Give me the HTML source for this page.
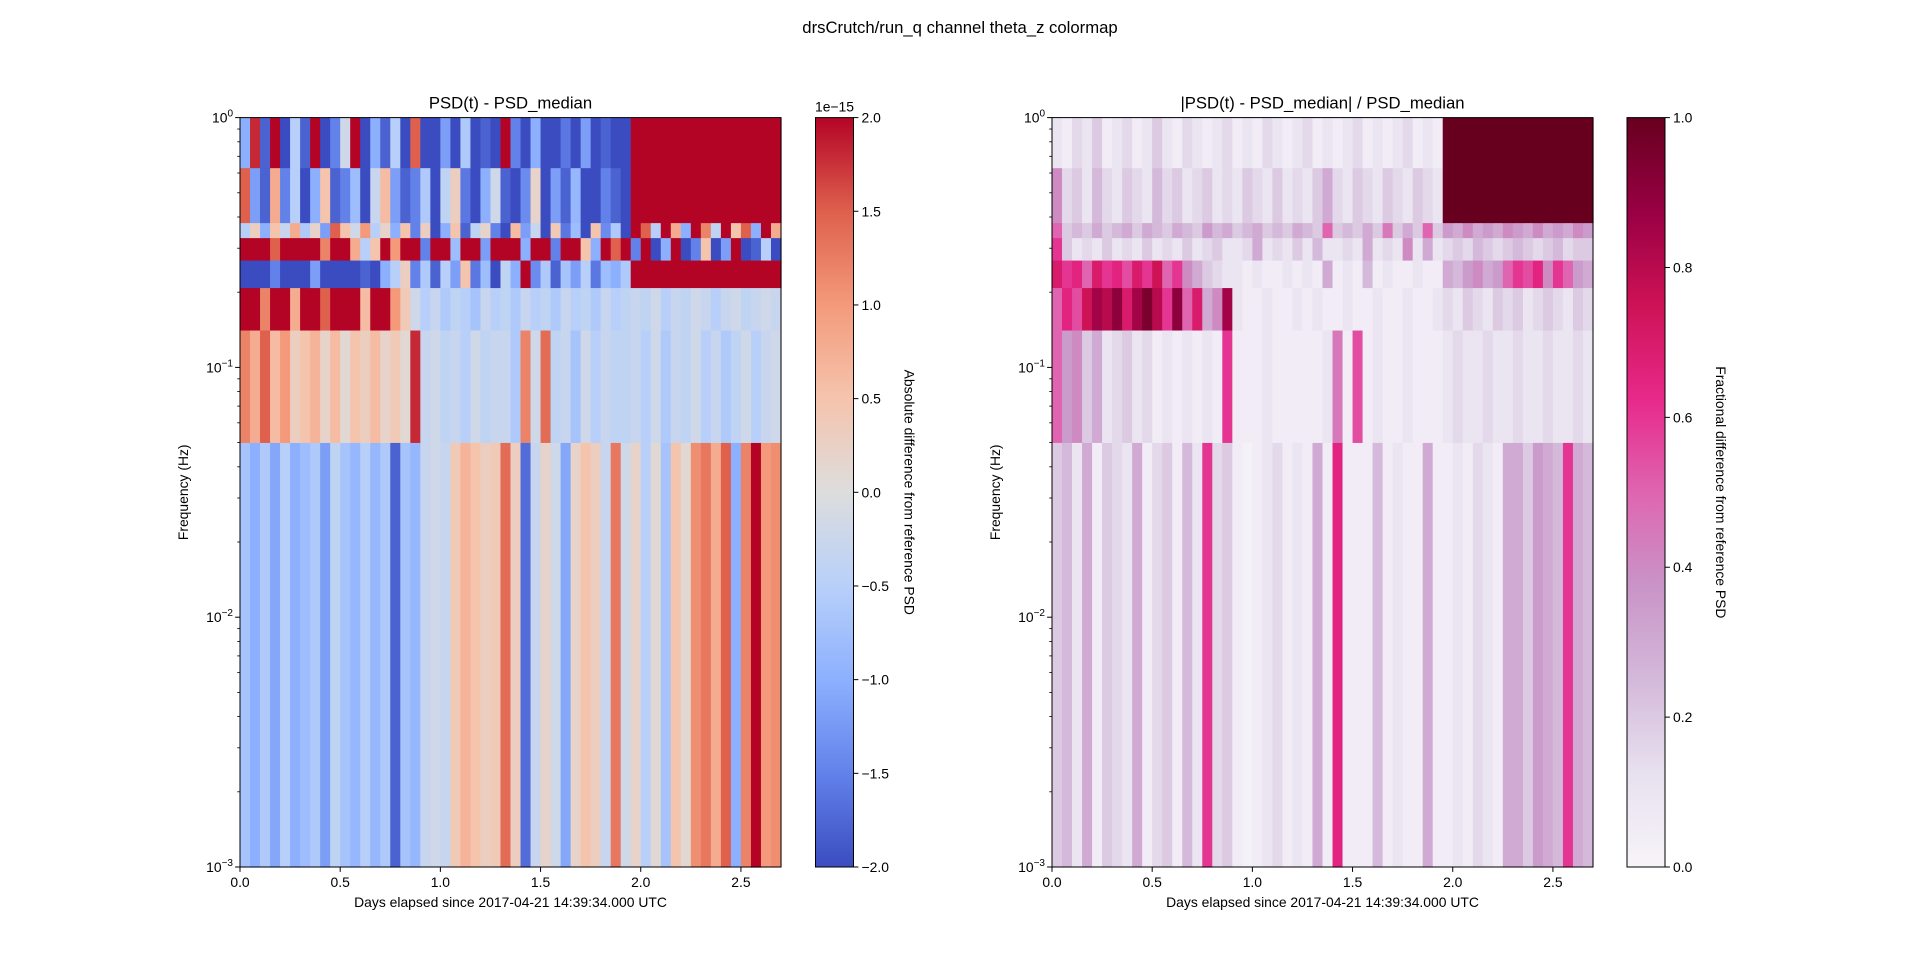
<!DOCTYPE html>
<html><head><meta charset="utf-8"><style>
body{margin:0;background:#fff}
svg text{font-family:"Liberation Sans","DejaVu Sans",sans-serif;fill:#000}
</style></head><body>
<svg id="fig" width="1920" height="974" xmlns="http://www.w3.org/2000/svg">
<defs>
<linearGradient id="gcw" x1="0" y1="1" x2="0" y2="0">
<stop offset="0" stop-color="rgb(59,76,192)"/><stop offset="0.125" stop-color="rgb(98,130,234)"/><stop offset="0.25" stop-color="rgb(141,176,254)"/><stop offset="0.375" stop-color="rgb(184,208,249)"/><stop offset="0.5" stop-color="rgb(221,221,221)"/><stop offset="0.625" stop-color="rgb(245,196,173)"/><stop offset="0.75" stop-color="rgb(244,154,123)"/><stop offset="0.875" stop-color="rgb(222,96,77)"/><stop offset="1" stop-color="rgb(180,4,38)"/>
</linearGradient>
<linearGradient id="gpr" x1="0" y1="1" x2="0" y2="0">
<stop offset="0" stop-color="rgb(247,244,249)"/><stop offset="0.125" stop-color="rgb(231,225,239)"/><stop offset="0.25" stop-color="rgb(212,185,218)"/><stop offset="0.375" stop-color="rgb(201,148,199)"/><stop offset="0.5" stop-color="rgb(223,101,176)"/><stop offset="0.625" stop-color="rgb(231,41,138)"/><stop offset="0.75" stop-color="rgb(206,18,86)"/><stop offset="0.875" stop-color="rgb(152,0,67)"/><stop offset="1" stop-color="rgb(103,0,31)"/>
</linearGradient>
</defs>
<text x="960" y="33" font-size="16.7" text-anchor="middle">drsCrutch/run_q channel theta_z colormap</text>
<g id="left"></g><g id="right"></g>
</svg>
<script>
const times=[0,0.05,0.1,0.15,0.2,0.25,0.3,0.35,0.4,0.45,0.5,0.55,0.6,0.65,0.7,0.75,0.8,0.85,0.9,0.95,1,1.05,1.1,1.15,1.2,1.25,1.3,1.35,1.4,1.45,1.5,1.55,1.6,1.65,1.7,1.75,1.8,1.85,1.9,1.95,2,2.05,2.1,2.15,2.2,2.25,2.3,2.35,2.4,2.45,2.5,2.55,2.6,2.65];
const bandEdges=[-3,-1.3,-0.85,-0.68,-0.57,-0.48,-0.42,-0.2,0];
const lowL=[-0.7,-1.0,-0.6,-1.1,-0.5,-1.0,-0.8,-0.6,-1.2,-0.4,-0.7,-0.9,-0.5,-0.9,-0.6,-1.8,-0.7,-0.9,-0.3,-0.2,-0.3,0.4,0.7,0.5,0.3,0.4,1.4,0.3,-1.7,-0.3,0.2,-0.2,-1.1,0.2,0.5,0.3,-0.3,1.3,-0.2,0.2,-0.5,0.1,-0.7,0.5,0.1,1.1,1.3,0.8,1.5,-1.0,1.2,2.0,1.0,1.1];
const midL=[1.2,0.8,1.5,0.6,1.0,0.3,0.5,0.7,0.2,0.6,0.1,0.5,0.3,0.6,0.2,0.4,0.1,1.8,-0.3,-0.2,-0.4,-0.3,-0.5,-0.2,-0.4,-0.3,-0.3,-0.6,1.2,-0.2,1.4,-0.4,-0.3,-0.7,-0.2,-0.5,-0.3,-0.4,-0.4,-0.3,-0.5,-0.2,-0.6,-0.3,-0.4,-0.2,-0.5,-0.3,-0.6,-0.4,-0.2,-0.5,-0.3,-0.2];
const b2L=[2,2,1.2,2,2,0.8,2,2,1.5,2,2,2,0.6,2,2,1.0,0.4,-0.2,-0.5,-0.3,-0.6,-0.4,-0.5,-0.7,-0.3,-0.5,-0.4,-0.6,-0.3,-0.5,-0.4,-0.6,-0.3,-0.5,-0.4,-0.6,-0.3,-0.5,-0.4,-0.3,-0.4,-0.2,-0.5,-0.3,-0.4,-0.2,-0.3,-0.5,-0.3,-0.2,-0.4,-0.3,-0.2,-0.3];
const b3L=[-2,-2,-2,-1.5,-2,-2,-2,-1.2,-2,-2,-2,-2,-1.8,-2,-1.0,-0.5,0.3,-1.5,-0.6,-1.8,-0.5,-1.2,0.5,-1.6,-0.8,-2,-0.4,-1.0,2,-1.4,-0.6,-1.8,-0.7,-1.2,-0.5,-1.6,-0.8,-1.0,-0.6,2,2,2,2,2,2,2,2,2,2,2,2,2,2,2];
const b4L=[2,2,2,1.5,2,2,2,2,1.2,2,2,0.8,-0.5,0.5,2,1.0,2,2,-1.5,2,2,-0.8,2,2,-1.2,2,2,2,-1.0,2,2,-1.5,2,2,0.5,-1.0,2,1.5,2,-1.5,2,-2,-1.0,2,-2,-1.5,0.5,-2,-1.2,2,-2,-1.8,-0.5,-2];
const b5L=[-0.5,0.3,-1.0,0.5,-0.3,0.8,-0.6,0.2,-1.2,1.5,0.5,-0.2,1.0,-0.5,0.2,-1.0,0.5,-1.5,0.3,-2,-1.0,0.5,-1.8,-0.4,0.2,-1.5,-2,0.6,-1.2,-0.3,-2,0.4,-1.6,-0.8,-2,0.5,-1.4,-0.6,-2,2,1.5,-0.5,2,0.8,-1.0,2,1.2,-0.4,2,0.5,1.5,-1.0,2,0.8];
const b6L=[1.5,-1.2,-1.8,0.8,-1.5,-0.5,-2,-1.0,0.5,-1.8,-1.5,-0.8,-2,-0.3,0.6,-1.2,-1.8,-1.5,-0.6,-2,-0.4,0.3,-1.6,-2,-1.0,-0.2,-1.8,-2,-1.4,0.2,-2,-1.2,-1.8,-0.9,-2,-2,-1.5,-1.8,-2,2,2,2,2,2,2,2,2,2,2,2,2,2,2,2];
const b7L=[-1.0,1.8,-1.8,2,-2,-0.5,-1.8,2,-2,-1.5,-0.2,2,-2,-1.0,-1.8,-0.5,-2,1.5,-2,-2,-1.2,-2,-0.6,-2,-1.8,-2,2,-1.5,-2,-1.0,-2,-2,-1.6,-2,-1.2,-2,-1.8,-2,-2,2,2,2,2,2,2,2,2,2,2,2,2,2,2,2];
const lowR=[0.2,0.25,0.1,0.3,0.05,0.2,0.15,0.1,0.3,0.05,0.15,0.2,0.05,0.25,0.1,0.6,0.15,0.2,0.05,0.02,0.05,0.1,0.15,0.05,0.1,0.05,0.3,0.05,0.65,0.05,0.05,0.05,0.25,0.05,0.1,0.05,0.05,0.3,0.05,0.05,0.1,0.05,0.15,0.1,0.05,0.3,0.3,0.2,0.35,0.3,0.25,0.6,0.3,0.25];
const midR=[0.5,0.35,0.4,0.2,0.3,0.1,0.15,0.2,0.1,0.15,0.05,0.1,0.05,0.1,0.05,0.1,0.05,0.6,0.05,0.05,0.05,0.1,0.05,0.05,0.05,0.05,0.05,0.1,0.45,0.05,0.55,0.05,0.1,0.05,0.05,0.1,0.05,0.05,0.05,0.1,0.15,0.1,0.1,0.15,0.1,0.1,0.15,0.1,0.1,0.15,0.1,0.1,0.15,0.1];
const b2R=[0.5,0.65,0.55,0.75,0.85,0.8,0.9,0.7,0.85,0.95,0.8,0.6,0.9,0.5,0.7,0.3,0.4,0.85,0.1,0.05,0.05,0.1,0.05,0.05,0.1,0.05,0.1,0.05,0.05,0.1,0.05,0.05,0.1,0.05,0.05,0.1,0.05,0.05,0.1,0.15,0.1,0.2,0.15,0.1,0.2,0.15,0.2,0.1,0.15,0.2,0.15,0.1,0.2,0.15];
const b3R=[0.7,0.6,0.65,0.5,0.7,0.6,0.65,0.55,0.7,0.6,0.75,0.5,0.6,0.4,0.3,0.2,0.15,0.1,0.1,0.05,0.1,0.05,0.05,0.1,0.05,0.1,0.05,0.3,0.05,0.1,0.05,0.25,0.05,0.1,0.05,0.05,0.1,0.05,0.05,0.3,0.25,0.35,0.4,0.3,0.35,0.5,0.6,0.55,0.65,0.4,0.6,0.5,0.35,0.3];
const b4R=[0.6,0.2,0.1,0.15,0.1,0.2,0.1,0.15,0.1,0.2,0.1,0.15,0.1,0.2,0.1,0.15,0.2,0.1,0.1,0.15,0.3,0.1,0.15,0.1,0.2,0.1,0.25,0.1,0.1,0.15,0.1,0.3,0.1,0.15,0.1,0.4,0.1,0.3,0.1,0.15,0.2,0.15,0.25,0.2,0.15,0.2,0.25,0.2,0.15,0.2,0.25,0.15,0.2,0.2];
const b5R=[0.5,0.2,0.25,0.2,0.3,0.2,0.25,0.3,0.2,0.3,0.25,0.2,0.3,0.25,0.2,0.35,0.25,0.3,0.2,0.25,0.3,0.2,0.25,0.2,0.3,0.25,0.2,0.5,0.2,0.25,0.2,0.3,0.2,0.45,0.2,0.3,0.2,0.5,0.2,0.35,0.3,0.4,0.3,0.35,0.3,0.4,0.35,0.3,0.4,0.3,0.35,0.3,0.4,0.35];
const b6R=[0.4,0.15,0.2,0.1,0.25,0.15,0.1,0.2,0.15,0.1,0.25,0.15,0.2,0.1,0.15,0.2,0.1,0.15,0.1,0.2,0.15,0.1,0.2,0.1,0.15,0.1,0.2,0.3,0.15,0.1,0.2,0.15,0.1,0.2,0.15,0.1,0.2,0.15,0.1,1,1,1,1,1,1,1,1,1,1,1,1,1,1,1];
const b7R=[0.1,0.05,0.15,0.1,0.2,0.05,0.1,0.15,0.05,0.1,0.2,0.1,0.05,0.15,0.1,0.05,0.1,0.15,0.05,0.1,0.05,0.15,0.1,0.05,0.1,0.15,0.05,0.1,0.05,0.1,0.15,0.05,0.1,0.05,0.1,0.15,0.05,0.1,0.05,1,1,1,1,1,1,1,1,1,1,1,1,1,1,1];
const xTicks=[0,0.5,1,1.5,2,2.5];
const yTickExp=[0,-1,-2,-3];
const cbTicksL=[-2,-1.5,-1,-0.5,0,0.5,1,1.5,2];
const cbTicksR=[0,0.2,0.4,0.6,0.8,1];

const NS="http://www.w3.org/2000/svg";
const CW=[[59,76,192],[98,130,234],[141,176,254],[184,208,249],[221,221,221],[245,196,173],[244,154,123],[222,96,77],[180,4,38]];
const PR=[[247,244,249],[231,225,239],[212,185,218],[201,148,199],[223,101,176],[231,41,138],[206,18,86],[152,0,67],[103,0,31]];
function cmap(a,u){u=Math.max(0,Math.min(1,u));const p=u*(a.length-1),i=Math.min(a.length-2,Math.floor(p)),f=p-i;
return 'rgb('+a[i].map((c,k)=>Math.round(c+(a[i+1][k]-c)*f)).join(',')+')';}
function el(t,at,parent){const e=document.createElementNS(NS,t);for(const k in at)e.setAttribute(k,at[k]);parent.appendChild(e);return e;}
const TOP=117.6,BOT=867,DT=0.05,TMAX=2.7;
function yOf(lg){return TOP+(0-lg)/3*(BOT-TOP);}

function drawPanel(g,x0,x1,bands,cm,vmin,vmax,title,cbx,ticks,fmt,cbLabel,grad,offsetText,prefix){
  const xOf=t=>x0+t/TMAX*(x1-x0);
  const hm=el('g',{},g);
  
  
  bands.forEach((arr,b)=>{
    arr.forEach((v,i)=>{
      if(times[i]===undefined)return;
      const r=el('rect',{x:xOf(times[i]).toFixed(2),y:yOf(bandEdges[b+1]).toFixed(2),width:(xOf(times[i]+DT)-xOf(times[i])+0.6).toFixed(2),height:(yOf(bandEdges[b])-yOf(bandEdges[b+1])+0.6).toFixed(2),fill:cmap(cm,(v-vmin)/(vmax-vmin))},hm);
      
      
    });
  });
  const fr=el('rect',{x:x0,y:TOP,width:x1-x0,height:BOT-TOP,fill:'none',stroke:'#000','stroke-width':1},g);
  
  
  const tt=el('text',{x:(x0+x1)/2,y:TOP-9,'font-size':16.7,'text-anchor':'middle'},g);tt.textContent=title;
  
  
  xTicks.forEach(t=>{const x=xOf(t);el('line',{x1:x,x2:x,y1:BOT,y2:BOT+4.9,stroke:'#000'},g);
    const lb=el('text',{x:x,y:BOT+20,'font-size':13.9,'text-anchor':'middle'},g);lb.textContent=t.toFixed(1);
    
    });
  const xl=el('text',{x:(x0+x1)/2,y:BOT+40,'font-size':13.9,'text-anchor':'middle'},g);xl.textContent='Days elapsed since 2017-04-21 14:39:34.000 UTC';
  
  
  yTickExp.forEach(e=>{const y=yOf(e);el('line',{x1:x0-4.9,x2:x0,y1:y,y2:y,stroke:'#000'},g);
    const lb=el('text',{x:x0-7,y:y+5,'font-size':13.9,'text-anchor':'end'},g);
    lb.innerHTML='10<tspan dy="-6" font-size="10">'+(e<0?'\u2212'+(-e):e)+'</tspan>';
    
    
    if(e>-3)for(let k=2;k<10;k++){const yy=yOf(e-1+Math.log10(k));el('line',{x1:x0-2.8,x2:x0,y1:yy,y2:yy,stroke:'#000','stroke-width':0.8},g);}
  });
  const yl=el('text',{x:0,y:0,'font-size':13.9,'text-anchor':'middle',transform:'translate('+(x0-52)+','+((TOP+BOT)/2)+') rotate(-90)'},g);yl.textContent='Frequency (Hz)';
  
  
  const cb=el('rect',{x:cbx,y:TOP,width:38,height:BOT-TOP,fill:'url(#'+grad+')',stroke:'#000','stroke-width':1},g);
  
  
  ticks.forEach(v=>{const y=BOT-(v-vmin)/(vmax-vmin)*(BOT-TOP);el('line',{x1:cbx+38,x2:cbx+42.9,y1:y,y2:y,stroke:'#000'},g);
    const lb=el('text',{x:cbx+46,y:y+5,'font-size':13.9},g);lb.textContent=fmt(v);
    
    });
  if(offsetText){const o=el('text',{x:cbx+19,y:TOP-6,'font-size':13.9,'text-anchor':'middle'},g);o.textContent=offsetText;
    
    }
  const cl=el('text',{x:0,y:0,'font-size':13.9,'text-anchor':'middle',transform:'translate('+(cbx+89)+','+((TOP+BOT)/2)+') rotate(90)'},g);cl.textContent=cbLabel;
  
  
}
const fmtL=v=>(v<0?'\u2212':'')+Math.abs(v).toFixed(1);
drawPanel(document.getElementById('left'),240,781,[lowL,midL,b2L,b3L,b4L,b5L,b6L,b7L],CW,-2,2,'PSD(t) - PSD_median',815.5,cbTicksL,fmtL,'Absolute difference from reference PSD','gcw','1e\u221215','left');
drawPanel(document.getElementById('right'),1052,1593,[lowR,midR,b2R,b3R,b4R,b5R,b6R,b7R],PR,0,1,'|PSD(t) - PSD_median| / PSD_median',1627,cbTicksR,v=>v.toFixed(1),'Fractional difference from reference PSD','gpr',null,'right');
</script>
</body></html>
